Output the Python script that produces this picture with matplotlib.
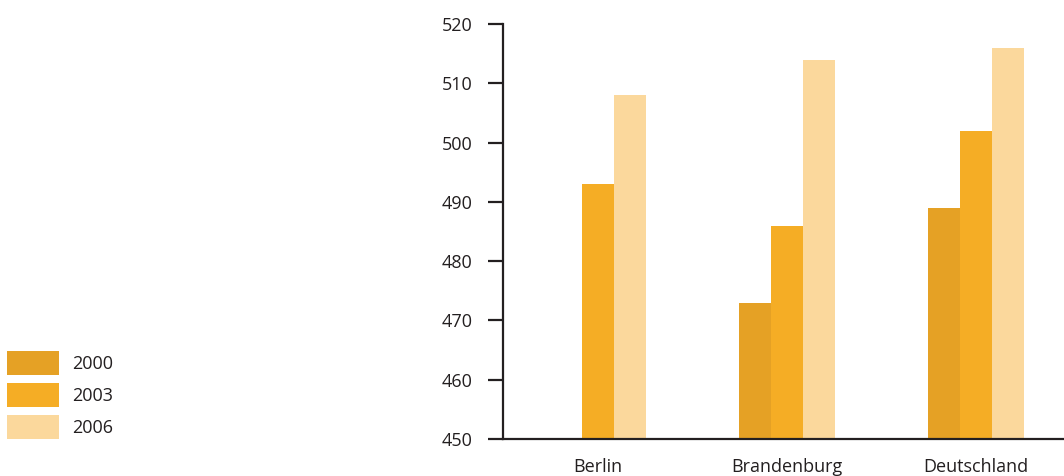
import numpy as np
import matplotlib
matplotlib.use("Agg")
import matplotlib.pyplot as plt

plt.rcParams['font.family'] = ['Open Sans', 'DejaVu Sans']

########### DATA ###############################################################
regions = ['Berlin', 'Brandenburg', 'Deutschland']
years = ['2000', '2003', '2006']
scores_2000 = [np.nan, 473, 489]   # no 2000 value for Berlin
scores_2003 = [493, 486, 502]
scores_2006 = [508, 514, 516]
colors = ['#E5A125', '#F5AD25', '#FBD89C']
yticks = [450, 460, 470, 480, 490, 500, 510, 520]

########### PLOT ###############################################################
fs = 13
fig = plt.figure(figsize=(10.64, 4.76), dpi=100)
ax = fig.add_axes([503 / 1064, 37 / 476, 1 - 503 / 1064, (439.3 - 24.3) / 476])

x = np.arange(len(regions))
w = 0.169
for i, (vals, yr) in enumerate(zip([scores_2000, scores_2003, scores_2006], years)):
    ax.bar(x + (i - 1) * w, np.array(vals) - 450, width=w, bottom=450,
           color=colors[i], label=yr, linewidth=0)

ax.set_ylim(450, 520)
ax.set_xlim(-0.503, 2.466)
ax.set_yticks(yticks)
ax.set_xticks(x)
ax.set_xticklabels(regions)

for s in ['top', 'right']:
    ax.spines[s].set_visible(False)
for s in ['left', 'bottom']:
    ax.spines[s].set_linewidth(1.6)
    ax.spines[s].set_color('#231f20')
ax.tick_params(axis='y', length=11, width=1.6, color='#231f20', pad=11,
               labelsize=fs, labelcolor='#231f20')
ax.tick_params(axis='x', length=0, pad=14, labelsize=fs, labelcolor='#231f20')

fig.legend(loc='lower left', bbox_to_anchor=(7 / 1064, 37 / 476), frameon=False,
           fontsize=fs, handlelength=2.88, handleheight=1.67, labelspacing=0.44,
           handletextpad=0.72, borderpad=0, borderaxespad=0, labelcolor='#231f20')

fig.savefig('out.png', dpi=100)
